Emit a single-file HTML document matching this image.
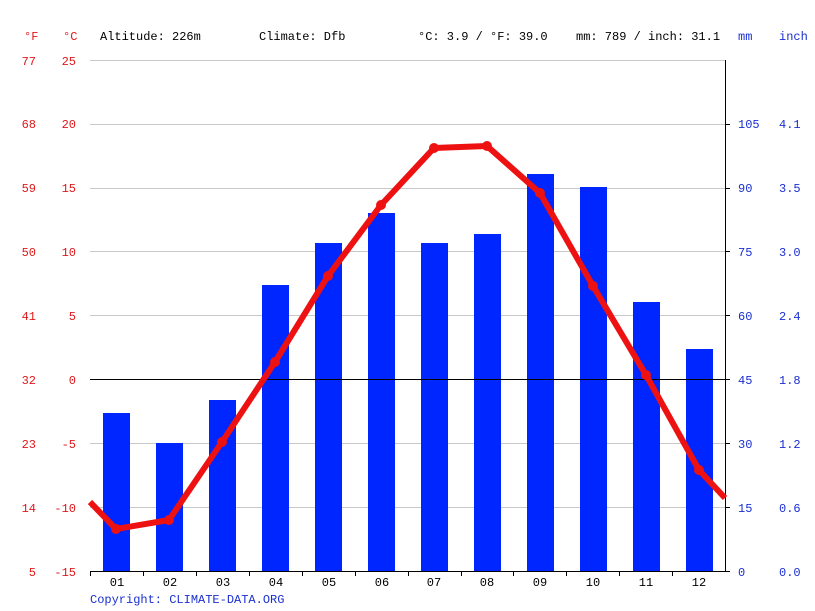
<!DOCTYPE html>
<html><head><meta charset="utf-8"><style>
html,body{margin:0;padding:0;background:#fff}
svg{display:block}
text{font-family:"Liberation Mono","DejaVu Sans Mono",monospace;font-size:12px}
.r{fill:#e0181b}.b{fill:#1a2fd0}.k{fill:#000}
</style></head><body>
<svg width="815" height="611" viewBox="0 0 815 611" xmlns="http://www.w3.org/2000/svg">
<rect width="815" height="611" fill="#fff"/>
<text class="r" x="24" y="40">°F</text>
<text class="r" x="63" y="40">°C</text>
<text class="k" x="100" y="40">Altitude: 226m</text>
<text class="k" x="259" y="40">Climate: Dfb</text>
<text class="k" x="418" y="40">°C: 3.9 / °F: 39.0</text>
<text class="k" x="576" y="40">mm: 789 / inch: 31.1</text>
<text class="b" x="738" y="40">mm</text>
<text class="b" x="779" y="40">inch</text>
<g stroke="#c8c8c8" stroke-width="1">
<line x1="90" x2="725" y1="60.5" y2="60.5"/>
<line x1="90" x2="725" y1="124.5" y2="124.5"/>
<line x1="90" x2="725" y1="188.5" y2="188.5"/>
<line x1="90" x2="725" y1="251.5" y2="251.5"/>
<line x1="90" x2="725" y1="315.5" y2="315.5"/>
<line x1="90" x2="725" y1="443.5" y2="443.5"/>
<line x1="90" x2="725" y1="507.5" y2="507.5"/>
</g>
<g class="r" text-anchor="end">
<text x="36" y="65">77</text><text x="76" y="65">25</text>
<text x="36" y="128">68</text><text x="76" y="128">20</text>
<text x="36" y="192">59</text><text x="76" y="192">15</text>
<text x="36" y="256">50</text><text x="76" y="256">10</text>
<text x="36" y="320">41</text><text x="76" y="320">5</text>
<text x="36" y="384">32</text><text x="76" y="384">0</text>
<text x="36" y="448">23</text><text x="76" y="448">-5</text>
<text x="36" y="512">14</text><text x="76" y="512">-10</text>
<text x="36" y="576">5</text><text x="76" y="576">-15</text>
</g>
<g class="b">
<text x="738" y="128">105</text><text x="779" y="128">4.1</text>
<text x="738" y="192">90</text><text x="779" y="192">3.5</text>
<text x="738" y="256">75</text><text x="779" y="256">3.0</text>
<text x="738" y="320">60</text><text x="779" y="320">2.4</text>
<text x="738" y="384">45</text><text x="779" y="384">1.8</text>
<text x="738" y="448">30</text><text x="779" y="448">1.2</text>
<text x="738" y="512">15</text><text x="779" y="512">0.6</text>
<text x="738" y="576">0</text><text x="779" y="576">0.0</text>
</g>
<g fill="#0026ff">
<rect x="103" y="413" width="27" height="158"/>
<rect x="156" y="443" width="27" height="128"/>
<rect x="209" y="400" width="27" height="171"/>
<rect x="262" y="285" width="27" height="286"/>
<rect x="315" y="243" width="27" height="328"/>
<rect x="368" y="213" width="27" height="358"/>
<rect x="421" y="243" width="27" height="328"/>
<rect x="474" y="234" width="27" height="337"/>
<rect x="527" y="174" width="27" height="397"/>
<rect x="580" y="187" width="27" height="384"/>
<rect x="633" y="302" width="27" height="269"/>
<rect x="686" y="349" width="27" height="222"/>
</g>
<line x1="90" x2="725" y1="379.5" y2="379.5" stroke="#000"/>
<line x1="90" x2="725" y1="571.5" y2="571.5" stroke="#000"/>
<line x1="725.5" x2="725.5" y1="60" y2="572" stroke="#000"/>
<g stroke="#000">
<line x1="90.5" x2="90.5" y1="571" y2="576"/><line x1="143.5" x2="143.5" y1="571" y2="576"/>
<line x1="196.5" x2="196.5" y1="571" y2="576"/><line x1="249.5" x2="249.5" y1="571" y2="576"/>
<line x1="302.5" x2="302.5" y1="571" y2="576"/><line x1="355.5" x2="355.5" y1="571" y2="576"/>
<line x1="408.5" x2="408.5" y1="571" y2="576"/><line x1="461.5" x2="461.5" y1="571" y2="576"/>
<line x1="513.5" x2="513.5" y1="571" y2="576"/><line x1="566.5" x2="566.5" y1="571" y2="576"/>
<line x1="619.5" x2="619.5" y1="571" y2="576"/><line x1="672.5" x2="672.5" y1="571" y2="576"/>
<line x1="725" x2="730" y1="571.5" y2="571.5"/><line x1="725" x2="730" y1="507.5" y2="507.5"/>
<line x1="725" x2="730" y1="443.5" y2="443.5"/><line x1="725" x2="730" y1="379.5" y2="379.5"/>
<line x1="725" x2="730" y1="315.5" y2="315.5"/><line x1="725" x2="730" y1="251.5" y2="251.5"/>
<line x1="725" x2="730" y1="188.5" y2="188.5"/><line x1="725" x2="730" y1="124.5" y2="124.5"/>
</g>
<g class="k" text-anchor="middle">
<text x="117" y="586">01</text><text x="170" y="586">02</text><text x="223" y="586">03</text>
<text x="276" y="586">04</text><text x="329" y="586">05</text><text x="382" y="586">06</text>
<text x="434" y="586">07</text><text x="487" y="586">08</text><text x="540" y="586">09</text>
<text x="593" y="586">10</text><text x="646" y="586">11</text><text x="699" y="586">12</text>
</g>
<polyline fill="none" stroke="#ee1111" stroke-width="6" stroke-linejoin="round" points="90,502 116,529 169,520 222,442 275,362 328,276 381,205 434,148 487,146 540,193 593,286 646,375 699,470 725,498"/>
<g fill="#ee1111">
<circle cx="116" cy="529" r="5"/><circle cx="169" cy="520" r="5"/><circle cx="222" cy="442" r="5"/>
<circle cx="275" cy="362" r="5"/><circle cx="328" cy="276" r="5"/><circle cx="381" cy="205" r="5"/>
<circle cx="434" cy="148" r="5"/><circle cx="487" cy="146" r="5"/><circle cx="540" cy="193" r="5"/>
<circle cx="593" cy="286" r="5"/><circle cx="646" cy="375" r="5"/><circle cx="699" cy="470" r="5"/>
</g>
<text class="b" x="90" y="603">Copyright: CLIMATE-DATA.ORG</text>
</svg>
</body></html>
